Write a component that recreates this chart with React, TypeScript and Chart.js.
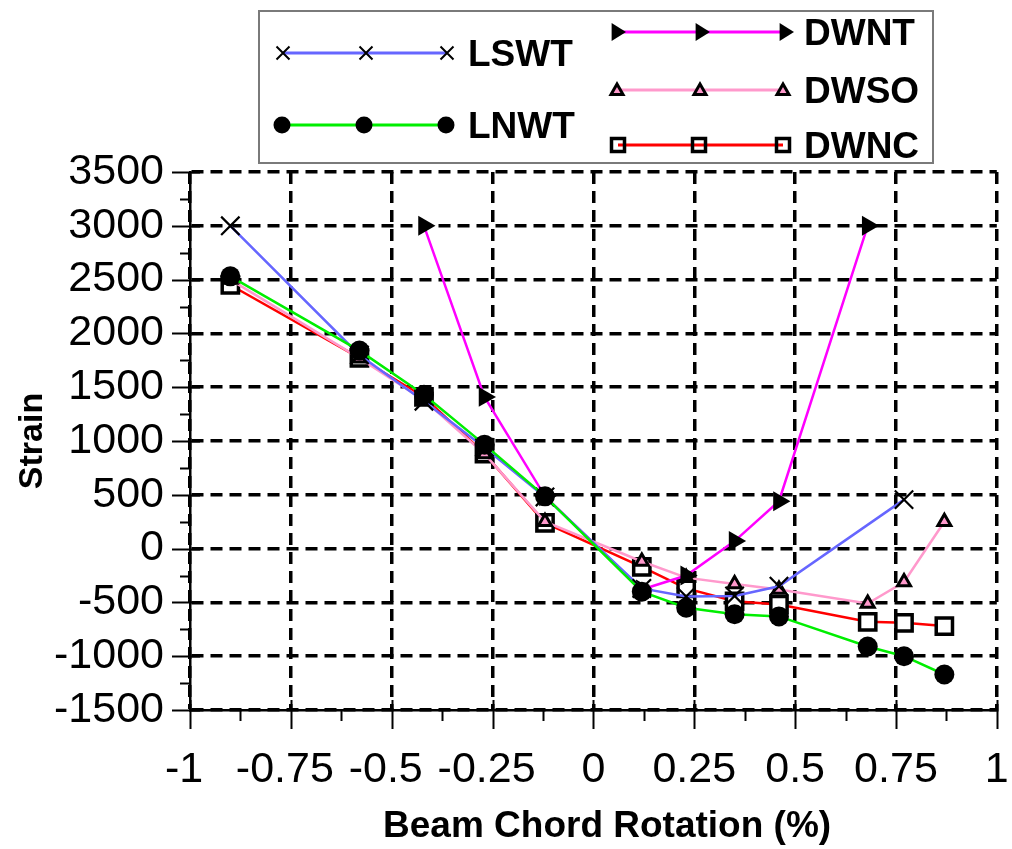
import React, { useEffect, useRef } from "react";
import { Chart, registerables } from "chart.js";

Chart.register(...registerables);

const FONT = '"Liberation Sans", Arial, Helvetica, sans-serif';

// Beam chord rotation (%) at each load step
const rotation = [-0.9, -0.58, -0.42, -0.27, -0.12, 0.12, 0.23, 0.35, 0.46, 0.68, 0.77, 0.87];

// Strain readings per specimen (null = no reading at that step)
const strainLSWT = [3000, 1800, 1370, 940, 480, -370, -445, -440, -350, null, 455, null];
const strainLNWT = [2530, 1840, 1430, 966, 486, -400, -550, -610, -630, -910, -1000, -1170];
const strainDWNT = [null, null, 3000, 1410, 486, -380, -250, 70, 440, 3000, null, null];
const strainDWSO = [2500, 1770, 1380, 880, 250, -120, -270, -330, -380, -510, -310, 250];
const strainDWNC = [2450, 1772, 1410, 883, 239, -170, -370, -490, -520, -680, -690, -720];

const seriesNames = ["LSWT", "LNWT", "DWNT", "DWSO", "DWNC"];

const xTickValues = [-1, -0.75, -0.5, -0.25, 0, 0.25, 0.5, 0.75, 1];
const yTickValues = [-1500, -1000, -500, 0, 500, 1000, 1500, 2000, 2500, 3000, 3500];

const xTitle = "Beam Chord Rotation (%)";
const yTitle = "Strain";

const toPoints = (ys: (number | null)[]) =>
  rotation
    .map((x, i) => ({ x, y: ys[i] }))
    .filter((p) => p.y !== null) as { x: number; y: number }[];

type Marker = { shape: string; size: number; fill: string; lw: number };

// Legend layout: two columns of entries, each a short line with three markers
const legendBox = { left: 259, top: 11, right: 933, bottom: 163 };
const legendRows = [
  { name: "LSWT", color: "#6666FF", y: 53, xs: [283, 366, 447], tx: 468, marker: { shape: "x", size: 6.5, fill: "transparent", lw: 2 } },
  { name: "LNWT", color: "#00EE00", y: 125, xs: [282, 364, 446], tx: 468, marker: { shape: "circle", size: 8.5, fill: "#000", lw: 0 } },
  { name: "DWNT", color: "#FF00FF", y: 32, xs: [617, 701, 785], tx: 804, marker: { shape: "triRight", size: 9, fill: "#000", lw: 0 } },
  { name: "DWSO", color: "#FF99CC", y: 90, xs: [617, 700, 783], tx: 804, marker: { shape: "triUp", size: 6, fill: "#FF99CC", lw: 3 } },
  { name: "DWNC", color: "#FF0000", y: 145, xs: [618, 699, 783], tx: 804, marker: { shape: "square", size: 6.5, fill: "transparent", lw: 3.5 } },
];

function drawMarker(ctx: CanvasRenderingContext2D, m: Marker, x: number, y: number) {
  const s = m.size;
  ctx.save();
  ctx.strokeStyle = "#000";
  ctx.fillStyle = m.fill;
  ctx.lineWidth = m.lw;
  ctx.beginPath();
  if (m.shape === "x") {
    ctx.moveTo(x - s, y - s);
    ctx.lineTo(x + s, y + s);
    ctx.moveTo(x - s, y + s);
    ctx.lineTo(x + s, y - s);
    ctx.stroke();
  } else if (m.shape === "circle") {
    ctx.arc(x, y, s, 0, Math.PI * 2);
    ctx.fill();
  } else if (m.shape === "triRight") {
    ctx.moveTo(x + s, y);
    ctx.lineTo(x - s * 0.6, y - s);
    ctx.lineTo(x - s * 0.6, y + s);
    ctx.closePath();
    ctx.fill();
  } else if (m.shape === "triUp") {
    ctx.moveTo(x, y - s);
    ctx.lineTo(x + s, y + s * 0.75);
    ctx.lineTo(x - s, y + s * 0.75);
    ctx.closePath();
    ctx.fill();
    ctx.stroke();
  } else if (m.shape === "square") {
    ctx.rect(x - s, y - s, 2 * s, 2 * s);
    ctx.stroke();
  }
  ctx.restore();
}

const decorations = {
  id: "decorations",
  afterDraw(chart: any) {
    const { ctx } = chart;
    const xs = chart.scales.x;
    const ys = chart.scales.y;
    const axisY = ys.getPixelForValue(yTickValues[0]);
    const axisX = xs.getPixelForValue(xTickValues[0]);

    ctx.save();
    ctx.strokeStyle = "#000";
    ctx.lineWidth = 2;
    ctx.setLineDash([]);

    // x-axis major and minor tick marks
    xTickValues.forEach((v, i) => {
      const px = Math.round(xs.getPixelForValue(v)) + 0.5;
      ctx.beginPath();
      ctx.moveTo(px, axisY - 10);
      ctx.lineTo(px, axisY + 19);
      ctx.stroke();
      if (i < xTickValues.length - 1) {
        const mx = Math.round(xs.getPixelForValue((v + xTickValues[i + 1]) / 2)) + 0.5;
        ctx.beginPath();
        ctx.moveTo(mx, axisY);
        ctx.lineTo(mx, axisY + 11);
        ctx.stroke();
      }
    });

    // y-axis major and minor tick marks
    yTickValues.forEach((v, i) => {
      const py = Math.round(ys.getPixelForValue(v)) + 0.5;
      ctx.beginPath();
      ctx.moveTo(axisX - 18, py);
      ctx.lineTo(axisX + 10, py);
      ctx.stroke();
      if (i < yTickValues.length - 1) {
        const my = Math.round(ys.getPixelForValue((v + yTickValues[i + 1]) / 2)) + 0.5;
        ctx.beginPath();
        ctx.moveTo(axisX - 10, my);
        ctx.lineTo(axisX, my);
        ctx.stroke();
      }
    });

    // axis titles
    ctx.fillStyle = "#000";
    ctx.font = `bold 37px ${FONT}`;
    ctx.textAlign = "left";
    ctx.textBaseline = "alphabetic";
    ctx.fillText(xTitle, 383, 837);

    ctx.save();
    ctx.translate(42, (chart.chartArea.top + chart.chartArea.bottom) / 2);
    ctx.rotate(-Math.PI / 2);
    ctx.font = `bold 34px ${FONT}`;
    ctx.textAlign = "center";
    ctx.fillText(yTitle, 0, 0);
    ctx.restore();

    // legend
    ctx.strokeStyle = "#7a7a7a";
    ctx.lineWidth = 2;
    ctx.strokeRect(
      legendBox.left,
      legendBox.top,
      legendBox.right - legendBox.left,
      legendBox.bottom - legendBox.top
    );
    legendRows.forEach((row) => {
      ctx.strokeStyle = row.color;
      ctx.lineWidth = 3;
      ctx.beginPath();
      ctx.moveTo(row.xs[0], row.y);
      ctx.lineTo(row.xs[row.xs.length - 1], row.y);
      ctx.stroke();
      row.xs.forEach((mx) => drawMarker(ctx, row.marker, mx, row.y));
      ctx.fillStyle = "#000";
      ctx.font = `bold 37px ${FONT}`;
      ctx.textAlign = "left";
      ctx.textBaseline = "alphabetic";
      ctx.fillText(row.name, row.tx, row.y + 13);
    });
    ctx.restore();
  },
};

export default function App() {
  const canvasRef = useRef<HTMLCanvasElement>(null);

  useEffect(() => {
    const canvas = canvasRef.current;
    if (!canvas) return;

    const chart = new Chart(canvas, {
      type: "line",
      data: {
        datasets: [
          {
            label: seriesNames[0],
            data: toPoints(strainLSWT),
            borderColor: "#6666FF",
            borderWidth: 2.5,
            pointStyle: "crossRot",
            pointRadius: 13,
            pointBorderColor: "#000",
            pointBorderWidth: 2.2,
            order: 1,
          },
          {
            label: seriesNames[1],
            data: toPoints(strainLNWT),
            borderColor: "#00EE00",
            borderWidth: 2.5,
            pointStyle: "circle",
            pointRadius: 10,
            pointBackgroundColor: "#000",
            pointBorderColor: "#000",
            pointBorderWidth: 0,
            order: 0,
          },
          {
            label: seriesNames[2],
            data: toPoints(strainDWNT),
            borderColor: "#FF00FF",
            borderWidth: 2.5,
            pointStyle: "triangle",
            pointRotation: 90,
            pointRadius: 11.5,
            pointBackgroundColor: "#000",
            pointBorderColor: "#000",
            pointBorderWidth: 0,
            order: 2,
          },
          {
            label: seriesNames[3],
            data: toPoints(strainDWSO),
            borderColor: "#FF99CC",
            borderWidth: 2.5,
            pointStyle: "triangle",
            pointRadius: 7.5,
            pointBackgroundColor: "#FF99CC",
            pointBorderColor: "#000",
            pointBorderWidth: 3,
            order: 3,
          },
          {
            label: seriesNames[4],
            data: toPoints(strainDWNC),
            borderColor: "#FF0000",
            borderWidth: 2.5,
            pointStyle: "rect",
            pointRadius: 11.5,
            pointBackgroundColor: "#FFFFFF",
            pointBorderColor: "#000",
            pointBorderWidth: 3.5,
            order: 4,
          },
        ],
      },
      options: {
        animation: false,
        responsive: true,
        maintainAspectRatio: false,
        layout: { padding: { top: 172, right: 14, left: 0, bottom: 0 } },
        plugins: {
          legend: { display: false },
          tooltip: { enabled: false },
        },
        elements: { line: { tension: 0 } },
        scales: {
          x: {
            type: "linear",
            min: -1,
            max: 1,
            afterBuildTicks: (scale: any) => {
              scale.ticks = xTickValues.map((value) => ({ value }));
            },
            afterFit: (scale: any) => {
              scale.height = 139;
              scale.paddingLeft = 0;
              scale.paddingRight = 0;
            },
            ticks: {
              autoSkip: false,
              maxRotation: 0,
              padding: 34,
              color: "#000",
              font: { family: FONT, size: 43 },
              callback: (v: any) => (Number(v) < 0 ? `${v} ` : `${v}`),
            },
            grid: { color: "#000", lineWidth: 3.5, drawTicks: false },
            border: { display: true, color: "#000", width: 2.5, dash: [12, 7] },
          },
          y: {
            type: "linear",
            min: -1500,
            max: 3500,
            afterBuildTicks: (scale: any) => {
              scale.ticks = yTickValues.map((value) => ({ value }));
            },
            afterFit: (scale: any) => {
              scale.width = 190;
              scale.paddingTop = 0;
              scale.paddingBottom = 0;
            },
            ticks: {
              autoSkip: false,
              padding: 26,
              color: "#000",
              font: { family: FONT, size: 43 },
              callback: (v: any) => `${v}`,
            },
            grid: { color: "#000", lineWidth: 3.5, drawTicks: false },
            border: { display: true, color: "#000", width: 2.5, dash: [12, 7] },
          },
        },
      },
      plugins: [decorations],
    } as any);

    return () => chart.destroy();
  }, []);

  return (
    <div style={{ position: "fixed", left: 0, top: 0, width: 1012, height: 849, background: "#fff" }}>
      <canvas ref={canvasRef} />
    </div>
  );
}
